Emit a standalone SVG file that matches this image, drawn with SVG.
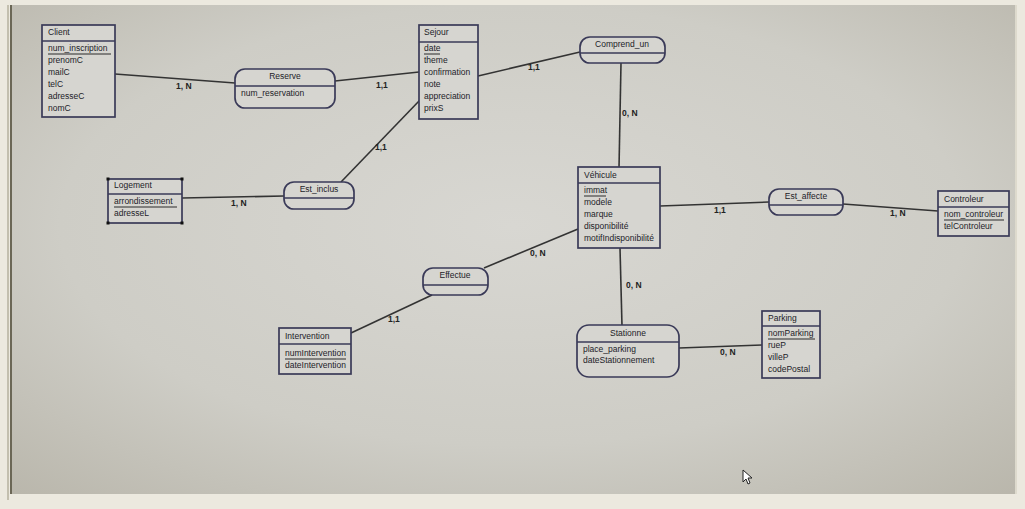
<svg xmlns="http://www.w3.org/2000/svg" width="1025" height="509" viewBox="0 0 1025 509">
<defs>
<radialGradient id="bg" cx="0.5" cy="0.45" r="0.75">
<stop offset="0" stop-color="#d8d7d2"/>
<stop offset="0.6" stop-color="#cecdc6"/>
<stop offset="1" stop-color="#b9b6ab"/>
</radialGradient>
<style>
.box{fill:#d6d5d0;stroke:#3a3a58;stroke-width:1.7}
.div{stroke:#3a3a58;stroke-width:1.4}
.ul{stroke:#2a2a2a;stroke-width:1}
.t{font-family:"Liberation Sans",Arial,sans-serif;font-size:8.5px;fill:#222228}
.c{font-family:"Liberation Sans",Arial,sans-serif;font-size:8.5px;fill:#222;font-weight:bold}
.conn line{stroke:#333;stroke-width:1.6}
.h{fill:#111}
</style>
</defs>
<rect x="0" y="0" width="1025" height="509" fill="#ece9df"/>
<rect x="10" y="5" width="1005" height="489" fill="url(#bg)"/>
<line x1="11" y1="5" x2="11" y2="494" stroke="#6b6756" stroke-width="2"/>
<line x1="8" y1="5" x2="8" y2="500" stroke="#9a957f" stroke-width="1"/>
<line x1="1016" y1="5" x2="1016" y2="494" stroke="#cfcbbb" stroke-width="1"/>

<g class="conn">
<line x1="115" y1="74" x2="235" y2="83"/>
<line x1="335" y1="81" x2="419" y2="72"/>
<line x1="478" y1="76" x2="580" y2="52"/>
<line x1="621" y1="63" x2="619" y2="168"/>
<line x1="420" y1="100" x2="341" y2="182"/>
<line x1="182" y1="198" x2="284" y2="196"/>
<line x1="660" y1="206" x2="769" y2="202"/>
<line x1="843" y1="204" x2="938" y2="211"/>
<line x1="578" y1="229" x2="484" y2="268"/>
<line x1="432" y1="295" x2="351" y2="333"/>
<line x1="620" y1="248" x2="622" y2="326"/>
<line x1="679" y1="348" x2="762" y2="345"/>
</g>
<g id="cards">
<text class="c" x="176" y="89">1, N</text>
<text class="c" x="376" y="88">1,1</text>
<text class="c" x="528" y="70">1,1</text>
<text class="c" x="622" y="116">0, N</text>
<text class="c" x="375" y="150">1,1</text>
<text class="c" x="231" y="206">1, N</text>
<text class="c" x="714" y="213">1,1</text>
<text class="c" x="890" y="216">1, N</text>
<text class="c" x="530" y="256">0, N</text>
<text class="c" x="388" y="322">1,1</text>
<text class="c" x="626" y="288">0, N</text>
<text class="c" x="720" y="355">0, N</text>
</g>

<g id="Client">
<rect class="box" x="42" y="25" width="73" height="92"/>
<line class="div" x1="42" y1="41" x2="115" y2="41"/>
<text class="t" x="48" y="35">Client</text>
<text class="t" x="48" y="51">num_inscription</text>
<line class="ul" x1="48" y1="54" x2="111" y2="54"/>
<text class="t" x="48" y="63">prenomC</text>
<text class="t" x="48" y="75">mailC</text>
<text class="t" x="48" y="87">telC</text>
<text class="t" x="48" y="99">adresseC</text>
<text class="t" x="48" y="111">nomC</text>
</g>

<g id="Reserve">
<rect class="box" x="235" y="69" width="100" height="39" rx="10"/>
<line class="div" x1="235" y1="86" x2="335" y2="86"/>
<text class="t" x="285" y="79" text-anchor="middle">Reserve</text>
<text class="t" x="241" y="96">num_reservation</text>
</g>

<g id="Sejour">
<rect class="box" x="419" y="25" width="59" height="94"/>
<line class="div" x1="419" y1="42" x2="478" y2="42"/>
<text class="t" x="424" y="35">Sejour</text>
<text class="t" x="424" y="51">date</text>
<line class="ul" x1="424" y1="54" x2="440" y2="54"/>
<text class="t" x="424" y="63">theme</text>
<text class="t" x="424" y="75">confirmation</text>
<text class="t" x="424" y="87">note</text>
<text class="t" x="424" y="99">appreciation</text>
<text class="t" x="424" y="111">prixS</text>
</g>

<g id="Comprend_un">
<rect class="box" x="580" y="37" width="85" height="26" rx="10"/>
<line class="div" x1="580" y1="53" x2="665" y2="53"/>
<text class="t" x="622" y="47" text-anchor="middle">Comprend_un</text>
</g>

<g id="Logement">
<rect class="box" x="108" y="179" width="74" height="44"/>
<line class="div" x1="108" y1="194" x2="182" y2="194"/>
<text class="t" x="114" y="188">Logement</text>
<text class="t" x="114" y="204">arrondissement</text>
<line class="ul" x1="114" y1="207" x2="177" y2="207"/>
<text class="t" x="114" y="216">adresseL</text>
<rect class="h" x="106.5" y="177.5" width="3" height="3"/>
<rect class="h" x="180.5" y="177.5" width="3" height="3"/>
<rect class="h" x="106.5" y="221.5" width="3" height="3"/>
<rect class="h" x="180.5" y="221.5" width="3" height="3"/>
</g>

<g id="Est_inclus">
<rect class="box" x="284" y="182" width="70" height="27" rx="10"/>
<line class="div" x1="284" y1="198" x2="354" y2="198"/>
<text class="t" x="319" y="192" text-anchor="middle">Est_inclus</text>
</g>

<g id="Vehicule">
<rect class="box" x="578" y="167" width="82" height="81"/>
<line class="div" x1="578" y1="183" x2="660" y2="183"/>
<text class="t" x="584" y="178">Véhicule</text>
<text class="t" x="584" y="193">immat</text>
<line class="ul" x1="584" y1="196" x2="606" y2="196"/>
<text class="t" x="584" y="205">modele</text>
<text class="t" x="584" y="217">marque</text>
<text class="t" x="584" y="229">disponibilité</text>
<text class="t" x="584" y="241">motifIndisponibilité</text>
</g>

<g id="Est_affecte">
<rect class="box" x="769" y="189" width="74" height="26" rx="10"/>
<line class="div" x1="769" y1="205" x2="843" y2="205"/>
<text class="t" x="806" y="199" text-anchor="middle">Est_affecte</text>
</g>

<g id="Controleur">
<rect class="box" x="938" y="191" width="71" height="45"/>
<line class="div" x1="938" y1="207" x2="1009" y2="207"/>
<text class="t" x="944" y="202">Controleur</text>
<text class="t" x="944" y="217">nom_controleur</text>
<line class="ul" x1="944" y1="220" x2="1004" y2="220"/>
<text class="t" x="944" y="229">telControleur</text>
</g>

<g id="Effectue">
<rect class="box" x="423" y="268" width="65" height="27" rx="10"/>
<line class="div" x1="423" y1="285" x2="488" y2="285"/>
<text class="t" x="455" y="278" text-anchor="middle">Effectue</text>
</g>

<g id="Intervention">
<rect class="box" x="279" y="328" width="72" height="46"/>
<line class="div" x1="279" y1="344" x2="351" y2="344"/>
<text class="t" x="285" y="339">Intervention</text>
<text class="t" x="285" y="356">numIntervention</text>
<line class="ul" x1="285" y1="359" x2="346" y2="359"/>
<text class="t" x="285" y="368">dateIntervention</text>
</g>

<g id="Stationne">
<rect class="box" x="577" y="325" width="102" height="52" rx="12"/>
<line class="div" x1="577" y1="342" x2="679" y2="342"/>
<text class="t" x="628" y="336" text-anchor="middle">Stationne</text>
<text class="t" x="583" y="352">place_parking</text>
<text class="t" x="583" y="363">dateStationnement</text>
</g>

<g id="Parking">
<rect class="box" x="762" y="311" width="58" height="67"/>
<line class="div" x1="762" y1="326" x2="820" y2="326"/>
<text class="t" x="768" y="321">Parking</text>
<text class="t" x="768" y="336">nomParking</text>
<line class="ul" x1="768" y1="339" x2="815" y2="339"/>
<text class="t" x="768" y="348">rueP</text>
<text class="t" x="768" y="360">villeP</text>
<text class="t" x="768" y="372">codePostal</text>
</g>

<polygon points="743,470 743,482 746,479 748,484 750,483 748,478 752,478" fill="#fff" stroke="#222" stroke-width="1"/>
</svg>
